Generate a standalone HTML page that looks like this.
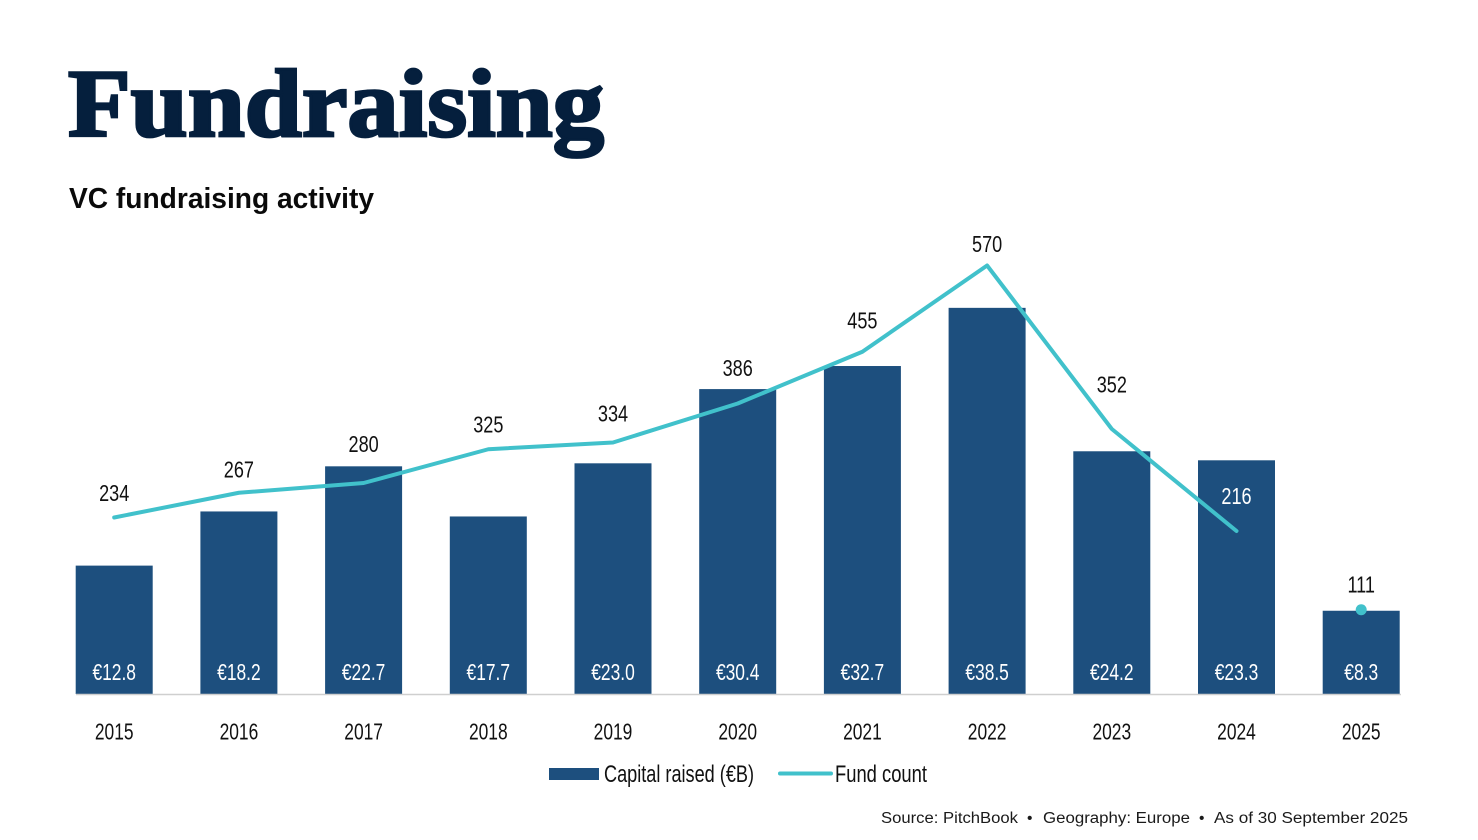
<!DOCTYPE html>
<html lang="en">
<head>
<meta charset="utf-8">
<title>Fundraising</title>
<style>
  html, body { margin: 0; padding: 0; background: #fff; }
  body { width: 1478px; height: 840px; overflow: hidden; }
  svg { display: block; }
  text { font-family: "Liberation Sans", Arial, sans-serif; }
  .title { font-family: "Liberation Serif", "Times New Roman", serif; font-weight: 700; }
</style>
</head>
<body>
<svg id="chart" width="1478" height="840" viewBox="0 0 1478 840" xmlns="http://www.w3.org/2000/svg">
  <rect width="1478" height="840" fill="#ffffff"/>
  <text class="title" x="68" y="136" font-size="96" fill="#051f3d" stroke="#051f3d" stroke-width="2.8" textLength="536" lengthAdjust="spacingAndGlyphs">Fundraising</text>
  <text x="69" y="208" font-size="29" font-weight="700" fill="#0a0a0a" textLength="305" lengthAdjust="spacingAndGlyphs">VC fundraising activity</text>
  <g id="bars"></g>
  <line x1="76" x2="1401" y1="694.5" y2="694.5" stroke="#cfcfcf" stroke-width="1.6"/>
  <path id="count-line" fill="none" stroke="#41c1cb" stroke-width="4" stroke-linejoin="round" stroke-linecap="round"/>
  <g id="labels"></g>
  <g id="legend">
    <g>
      <rect x="549" y="768" width="50" height="12" fill="#1d4f7e"/>
      <text x="604" y="782" font-size="24" fill="#111" textLength="150" lengthAdjust="spacingAndGlyphs">Capital raised (€B)</text>
    </g>
    <g>
      <line x1="780" x2="831" y1="773.5" y2="773.5" stroke="#41c1cb" stroke-width="4" stroke-linecap="round"/>
      <text x="835" y="782" font-size="24" fill="#111" textLength="92" lengthAdjust="spacingAndGlyphs">Fund count</text>
    </g>
  </g>
  <g font-size="15.5" fill="#1a1a1a">
    <text x="881" y="823" textLength="137" lengthAdjust="spacingAndGlyphs">Source: PitchBook</text>
    <text x="1027" y="823">•</text>
    <text x="1043" y="823" textLength="147" lengthAdjust="spacingAndGlyphs">Geography: Europe</text>
    <text x="1199" y="823">•</text>
    <text x="1214" y="823" textLength="194" lengthAdjust="spacingAndGlyphs">As of 30 September 2025</text>
  </g>
</svg>
<script>
const years = ["2015", "2016", "2017", "2018", "2019", "2020", "2021", "2022", "2023", "2024", "2025"];
const capitalRaised = [12.8, 18.2, 22.7, 17.7, 23.0, 30.4, 32.7, 38.5, 24.2, 23.3, 8.3];
const fundCount = [234, 267, 280, 325, 334, 386, 455, 570, 352, 216, 111];
const capitalLabels = ["€12.8", "€18.2", "€22.7", "€17.7", "€23.0", "€30.4", "€32.7", "€38.5", "€24.2", "€23.3", "€8.3"];
const countLabels = ["234", "267", "280", "325", "334", "386", "455", "570", "352", "216", "111"];
const partialYearCount = 1;

const NS = "http://www.w3.org/2000/svg";
const BASE_Y = 694;
const BAR_W = 77;
const labelLift = [16.5, 15.5, 31, 17, 21, 27.5, 23.5, 13.5, 36.5, 27, 17.5];
const xScale = function (i) { return 114.2 + i * 124.7; };
const barY = function (v) { return BASE_Y - v * 10.03; };
const countY = function (v) { return 693 - v * 0.75; };

function addText(parent, str, x, y, size, fill, squeeze) {
  const t = document.createElementNS(NS, "text");
  t.setAttribute("transform", "translate(" + x + "," + y + ") scale(" + squeeze + ",1)");
  t.setAttribute("text-anchor", "middle");
  t.setAttribute("font-size", size);
  t.setAttribute("fill", fill);
  t.textContent = str;
  parent.appendChild(t);
  return t;
}

const barsG = document.getElementById("bars");
const labelsG = document.getElementById("labels");

years.forEach(function (year, i) {
  const r = document.createElementNS(NS, "rect");
  const top = barY(capitalRaised[i]);
  r.setAttribute("x", xScale(i) - BAR_W / 2);
  r.setAttribute("y", top);
  r.setAttribute("width", BAR_W);
  r.setAttribute("height", BASE_Y - top);
  r.setAttribute("fill", "#1d4f7e");
  
  
  barsG.appendChild(r);

  const cap = addText(labelsG, capitalLabels[i], xScale(i), 680, 23.5, "#ffffff", 0.74);
  
  

  const yr = addText(labelsG, year, xScale(i), 739.5, 23.5, "#111111", 0.74);
  
  

  const onBar = year === "2024";
  const cnt = addText(labelsG, countLabels[i], xScale(i), countY(fundCount[i]) - labelLift[i], 23.5, onBar ? "#ffffff" : "#111111", 0.77);
  
  
});

const lineEnd = years.length - partialYearCount;
let d = "";
for (let i = 0; i < lineEnd; i++) {
  d += (i === 0 ? "M" : "L") + xScale(i) + " " + countY(fundCount[i]);
}
document.getElementById("count-line").setAttribute("d", d);

for (let i = lineEnd; i < years.length; i++) {
  const dot = document.createElementNS(NS, "circle");
  dot.setAttribute("cx", xScale(i));
  dot.setAttribute("cy", countY(fundCount[i]));
  dot.setAttribute("r", 5.5);
  dot.setAttribute("fill", "#41c1cb");
  
  
  document.getElementById("chart").appendChild(dot);
}
</script>
</body>
</html>
